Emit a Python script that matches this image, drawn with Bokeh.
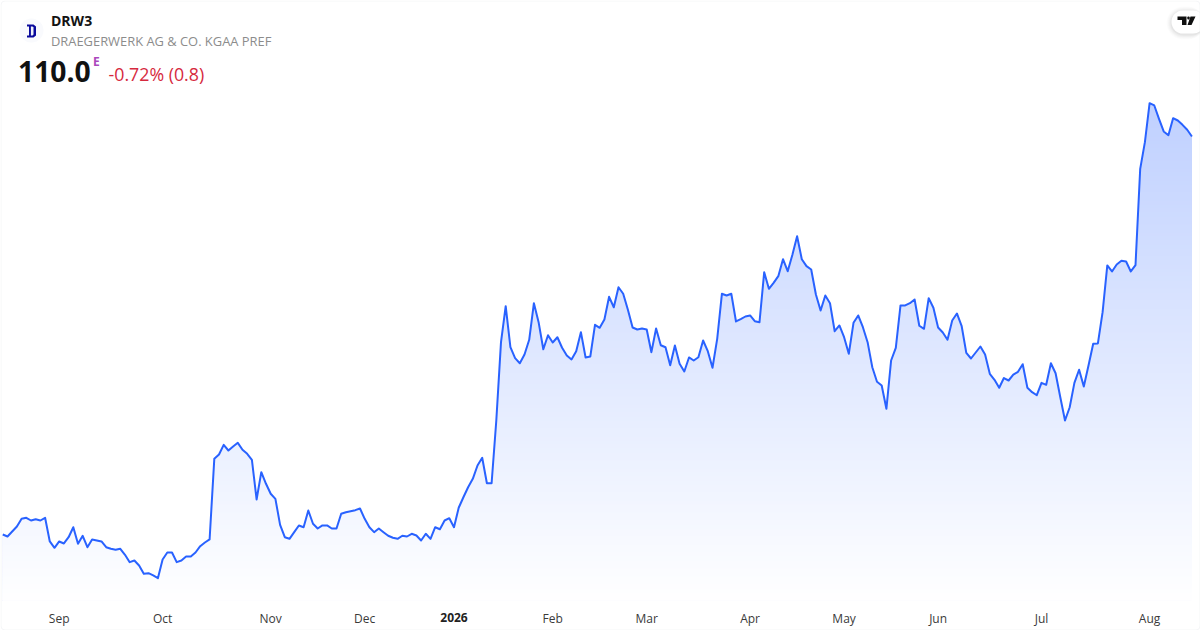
import numpy as np
from bokeh.embed import file_html
from bokeh.resources import INLINE
from bokeh.plotting import figure
from bokeh.models import BoxAnnotation, FixedTicker, Label, LinearAxis, PolyAnnotation

# ---------- data (price per session) ----------
prices = [
    60.25, 60.0, 60.63, 61.25, 62.21, 62.34, 62.0, 62.16, 62.0, 62.34,
    59.38, 58.59, 59.38, 59.13, 59.91, 61.16, 59.09, 60.09, 58.66, 59.63,
    59.5, 59.38, 58.66, 58.46, 58.34, 58.46, 57.71, 56.79, 57.0, 56.38,
    55.34, 55.41, 55.13, 54.79, 57.13, 58.0, 58.0, 56.79, 57.0, 57.5,
    57.5, 58.0, 58.79, 59.25, 59.63, 69.71, 70.25, 71.46, 70.75, 71.25,
    71.71, 70.84, 70.34, 69.59, 64.63, 68.04, 66.59, 65.34, 64.71, 61.46,
    59.91, 59.71, 60.54, 61.38, 61.16, 63.25, 61.59, 61.0, 61.38, 61.38,
    61.0, 61.0, 62.84, 63.04, 63.16, 63.29, 63.5, 62.21, 61.16, 60.54,
    61.0, 60.54, 60.09, 59.84, 59.71, 60.09, 60.0, 60.34, 60.13, 59.5,
    60.34, 59.71, 61.16, 60.91, 62.0, 62.29, 61.16, 63.59, 64.91, 66.16,
    67.21, 68.88, 69.84, 66.66, 66.66, 74.5, 84.29, 88.79, 83.66, 82.29,
    81.66, 82.75, 84.59, 89.16, 86.79, 83.41, 85.16, 84.25, 84.91, 83.59,
    82.63, 82.13, 83.16, 85.54, 82.38, 82.5, 86.46, 86.09, 87.13, 89.96,
    88.66, 91.16, 90.34, 88.34, 86.13, 85.88, 86.0, 85.88, 83.04, 86.0,
    83.91, 83.66, 81.41, 83.88, 81.59, 80.63, 82.38, 82.0, 82.41, 84.5,
    83.16, 81.09, 84.71, 90.34, 90.13, 90.34, 86.88, 87.16, 87.5, 87.63,
    86.91, 86.79, 93.04, 90.96, 91.71, 92.54, 94.66, 93.16, 95.21, 97.54,
    94.66, 93.79, 93.38, 90.25, 88.25, 90.13, 89.16, 85.66, 86.38, 84.91,
    82.84, 86.71, 87.63, 86.16, 84.29, 81.16, 79.34, 78.88, 75.96, 82.0,
    83.59, 88.88, 88.88, 89.16, 89.63, 86.34, 85.96, 89.79, 88.59, 86.13,
    85.5, 84.59, 87.0, 87.88, 86.34, 82.96, 82.25, 83.0, 83.75, 82.75,
    80.34, 79.59, 78.59, 79.81, 79.5, 80.23, 80.59, 81.54, 78.59, 78.04,
    77.66, 79.21, 78.96, 81.66, 80.41, 77.41, 74.5, 76.16, 79.21, 80.84,
    78.75, 81.38, 84.09, 84.13, 88.04, 93.88, 93.13, 94.0, 94.46, 94.38,
    93.13, 93.91, 105.96, 109.29, 114.16, 113.88, 112.21, 110.63, 110.16, 112.29,
    112.0, 111.46, 110.84, 110.0,
]
tick_sessions = [12, 34, 57, 77, 117, 137, 159, 179, 199, 221, 244]
tick_labels = ["Sep", "Oct", "Nov", "Dec", "Feb", "Mar", "Apr", "May", "Jun", "Jul", "Aug"]
year_session = 96
year_label = "2026"
symbol = "DRW3"
company = "DRAEGERWERK AG & CO. KGAA PREF"
last_price = "110.0"
change_text = "-0.72% (0.8)"

# ---------- scale between sessions/prices and page pixels ----------
X0, DX, PX_PER_UNIT, Y_TOP = 2.3, 4.7, 8.0, 127.0
W, H, AREA_BOTTOM = 1200, 630, 600
lx = lambda px: (px - X0) / DX
ly = lambda py: Y_TOP - py / PX_PER_UNIT

sessions = np.arange(len(prices), dtype=float)
values = np.array(prices)

FONT = "Open Sans"
LINE = "#2962FF"

p = figure(
    width=W, height=H,
    x_range=(lx(0), lx(W)), y_range=(ly(H), ly(0)),
    output_backend="svg", toolbar_location=None,
    min_border=0, min_border_left=0, min_border_right=0, min_border_top=0, min_border_bottom=0,
    outline_line_color=None, background_fill_color="white",
)
p.grid.visible = False
p.yaxis.visible = False


def style_axis(axis, ticks, labels, bold, color, at_py):
    axis.ticker = FixedTicker(ticks=ticks)
    axis.major_label_overrides = dict(zip(ticks, labels))
    axis.fixed_location = ly(at_py)
    axis.axis_line_color = None
    axis.major_tick_line_color = None
    axis.minor_tick_line_color = None
    axis.major_tick_in = 0
    axis.major_tick_out = 0
    axis.major_label_standoff = 0
    axis.major_label_text_font = FONT
    axis.major_label_text_font_size = "12px"
    axis.major_label_text_font_style = "bold" if bold else "normal"
    axis.major_label_text_color = color


style_axis(p.xaxis[0], tick_sessions, tick_labels, False, "#3a3a3a", 609)
year_axis = LinearAxis()
style_axis(year_axis, [year_session], [year_label], True, "#222222", 612)
p.add_layout(year_axis, "below")

# ---------- gradient area: nested layers, each clipped at a lower ceiling ----------
GRAD_TOP_PY, GRAD_BOT_PY, ALPHA_TOP = 100, 604, 0.30
base = ly(AREA_BOTTOM)


def blended(a):
    c = [round(255 + (t - 255) * a) for t in (0x29, 0x62, 0xFF)]
    return "#%02x%02x%02x" % tuple(c)


for py in range(GRAD_TOP_PY, AREA_BOTTOM, 4):
    ceiling = ly(py)
    d = values - ceiling
    k = np.where(d[:-1] * d[1:] < 0)[0]
    cross = sessions[k] + (ceiling - values[k]) / (values[k + 1] - values[k])
    xs = np.sort(np.concatenate([sessions, cross]))
    ys = np.minimum(np.interp(xs, sessions, values), ceiling)
    a = ALPHA_TOP * (GRAD_BOT_PY - (py + 2)) / (GRAD_BOT_PY - GRAD_TOP_PY)
    p.varea(x=xs, y1=np.full_like(xs, base), y2=ys, fill_color=blended(a), fill_alpha=1)

p.line(sessions, values, line_color=LINE, line_width=2, line_join="round")


def text(px, py, s, size, color, style="normal"):
    p.add_layout(Label(x=lx(px), y=ly(py), text=s, text_baseline="middle", text_font=FONT,
                       text_font_size=size, text_font_style=style, text_color=color))


def poly(xs_px, ys_px, color):
    p.add_layout(PolyAnnotation(xs=[lx(v) for v in xs_px], ys=[ly(v) for v in ys_px],
                                fill_color=color, fill_alpha=1, line_color=None))


# ---------- header ----------
BADGE_BG = "#eff2fa"
p.add_layout(BoxAnnotation(left=lx(19), right=lx(43), top=ly(18), bottom=ly(42), border_radius=12,
                           fill_color=BADGE_BG, line_color=None))
poly([26.5, 33, 35.5, 35.5, 33, 26.5, 26.5, 28.5, 28.5, 26.5], [24, 24, 26, 35, 37, 37, 35, 35, 26, 26], "#0a0a9c")
poly([30.4, 32, 33, 33, 32, 30.4], [26, 26, 27, 34, 35, 35], BADGE_BG)
text(50.5, 20, symbol, "14px", "#131313", "bold")
text(50.5, 40, company, "12.9px", "#8c8c8c")
text(17.5, 71, last_price, "28.3px", "#111111", "bold")
text(92.5, 60.5, "E", "12px", "#ab47bc", "bold")
text(108, 73.5, change_text, "17.8px", "#d6293e")

# ---------- TradingView badge ----------
for grow, alpha in [(5, 0.012), (4, 0.016), (3, 0.02), (2, 0.025), (1, 0.03)]:
    p.add_layout(BoxAnnotation(left=lx(1171 - grow), right=lx(1204), top=ly(10 - grow + 1), bottom=ly(33 + grow + 1),
                               border_radius=12 + grow, fill_color="black", fill_alpha=alpha, line_color=None))
p.add_layout(BoxAnnotation(left=lx(1171), right=lx(1204), top=ly(10), bottom=ly(33), border_radius=12,
                           fill_color="white", fill_alpha=1, line_color=None))
poly([1177, 1186, 1186, 1181.5, 1181.5, 1177], [16, 16, 24.5, 24.5, 19.5, 19.5], "#0f0f0f")
poly([1190, 1195, 1191, 1187], [16, 16, 24.5, 24.5], "#0f0f0f")
p.add_layout(BoxAnnotation(left=lx(1186.8), right=lx(1189.2), top=ly(16), bottom=ly(19), border_radius=1,
                           fill_color="#0f0f0f", fill_alpha=1, line_color=None))

# ---------- card border ----------
p.add_layout(BoxAnnotation(left=lx(0.5), right=lx(W - 0.5), top=ly(0.5), bottom=ly(H - 0.5), border_radius=4,
                           fill_alpha=0, line_color="#dfe1e6", line_width=1))

open("out.html", "w").write(file_html(p, INLINE))
